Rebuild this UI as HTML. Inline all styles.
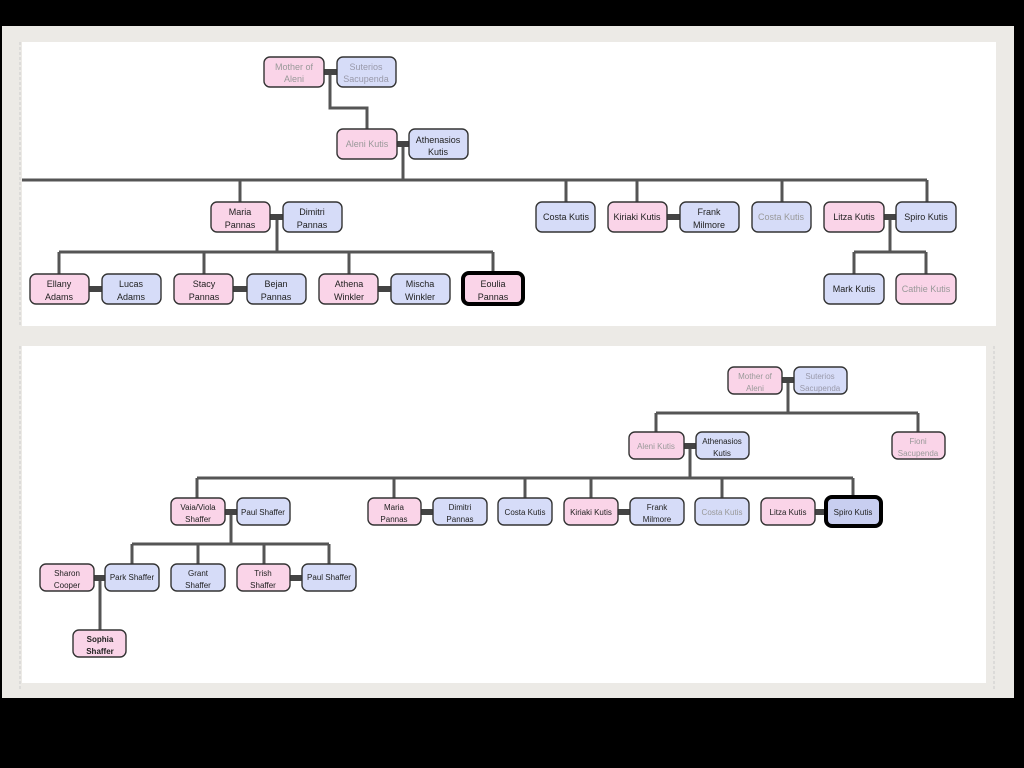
<!DOCTYPE html>
<html><head><meta charset="utf-8"><style>
html,body{margin:0;padding:0;background:#000;}
svg{display:block}
text{font-family:"Liberation Sans",sans-serif;text-anchor:middle;}
</style></head><body>
<svg width="1024" height="768" viewBox="0 0 1024 768" xmlns="http://www.w3.org/2000/svg">
<rect x="0" y="0" width="1024" height="768" fill="#000"/>
<rect x="2" y="26" width="1012" height="672" fill="#eceae6"/>
<rect x="22" y="42" width="974" height="284" fill="#fff"/>
<rect x="22" y="346" width="964" height="337" fill="#fff"/>
<line x1="20" y1="42" x2="20" y2="326" stroke="#ccc" stroke-dasharray="3,2"/>
<line x1="20" y1="346" x2="20" y2="690" stroke="#ccc" stroke-dasharray="3,2"/>
<line x1="994" y1="346" x2="994" y2="690" stroke="#ccc" stroke-dasharray="3,2"/>

<g stroke="#555" stroke-width="3" fill="none">
<!-- top diagram -->
<path d="M330 72 V108 H367 V129"/>
<path d="M403 144 V180"/>
<path d="M22 180 H927"/>
<path d="M240 180 V202 M566 180 V202 M637 180 V202 M782 180 V202 M927 180 V202"/>
<path d="M277 217 V252 M59 252 H493 M59 252 V274 M204 252 V274 M349 252 V274 M493 252 V274"/>
<path d="M890 217 V252 M854 252 H926 M854 252 V274 M926 252 V274"/>
<!-- bottom diagram -->
<path d="M788 380 V413 M656 413 H918 M656 413 V432 M918 413 V432"/>
<path d="M690 446 V478 M197 478 H853 M197 478 V498 M394 478 V498 M525 478 V498 M591 478 V498 M722 478 V498 M853 478 V498"/>
<path d="M231 512 V544 M132 544 H329 M132 544 V564 M198 544 V564 M264 544 V564 M329 544 V564"/>
<path d="M100 578 V630"/>
</g>
<g stroke="#444" stroke-width="6">
<line x1="324" y1="72" x2="337" y2="72"/><line x1="397" y1="144" x2="409" y2="144"/>
<line x1="270" y1="217" x2="283" y2="217"/><line x1="667" y1="217" x2="680" y2="217"/><line x1="884" y1="217" x2="896" y2="217"/>
<line x1="89" y1="289" x2="102" y2="289"/><line x1="233" y1="289" x2="247" y2="289"/><line x1="378" y1="289" x2="391" y2="289"/>
<line x1="782" y1="380" x2="794" y2="380"/><line x1="684" y1="446" x2="696" y2="446"/>
<line x1="225" y1="512" x2="237" y2="512"/><line x1="421" y1="512" x2="433" y2="512"/><line x1="618" y1="512" x2="630" y2="512"/><line x1="815" y1="512" x2="825" y2="512"/>
<line x1="94" y1="578" x2="105" y2="578"/><line x1="290" y1="578" x2="302" y2="578"/>
</g>

<g stroke="#333" stroke-width="1.4">
<!-- top boxes -->
<g font-size="9">
<rect x="264" y="57" width="60" height="30" rx="6" fill="#fad4e8"/>
<rect x="337" y="57" width="59" height="30" rx="6" fill="#d6dcf8"/>
<rect x="337" y="129" width="60" height="30" rx="6" fill="#fad4e8"/>
<rect x="409" y="129" width="59" height="30" rx="6" fill="#d6dcf8"/>
<rect x="211" y="202" width="59" height="30" rx="6" fill="#fad4e8"/>
<rect x="283" y="202" width="59" height="30" rx="6" fill="#d6dcf8"/>
<rect x="536" y="202" width="59" height="30" rx="6" fill="#d6dcf8"/>
<rect x="608" y="202" width="59" height="30" rx="6" fill="#fad4e8"/>
<rect x="680" y="202" width="59" height="30" rx="6" fill="#d6dcf8"/>
<rect x="752" y="202" width="59" height="30" rx="6" fill="#d6dcf8"/>
<rect x="824" y="202" width="60" height="30" rx="6" fill="#fad4e8"/>
<rect x="896" y="202" width="60" height="30" rx="6" fill="#d6dcf8"/>
<rect x="30" y="274" width="59" height="30" rx="6" fill="#fad4e8"/>
<rect x="102" y="274" width="59" height="30" rx="6" fill="#d6dcf8"/>
<rect x="174" y="274" width="59" height="30" rx="6" fill="#fad4e8"/>
<rect x="247" y="274" width="59" height="30" rx="6" fill="#d6dcf8"/>
<rect x="319" y="274" width="59" height="30" rx="6" fill="#fad4e8"/>
<rect x="391" y="274" width="59" height="30" rx="6" fill="#d6dcf8"/>
<rect x="463" y="273" width="60" height="31" rx="6" fill="#fad4e8" stroke="#000" stroke-width="4"/>
<rect x="824" y="274" width="60" height="30" rx="6" fill="#d6dcf8"/>
<rect x="896" y="274" width="60" height="30" rx="6" fill="#fad4e8"/>
</g>
<!-- bottom boxes -->
<rect x="728" y="367" width="54" height="27" rx="6" fill="#fad4e8"/>
<rect x="794" y="367" width="53" height="27" rx="6" fill="#d6dcf8"/>
<rect x="629" y="432" width="55" height="27" rx="6" fill="#fad4e8"/>
<rect x="696" y="432" width="53" height="27" rx="6" fill="#d6dcf8"/>
<rect x="892" y="432" width="53" height="27" rx="6" fill="#fad4e8"/>
<rect x="171" y="498" width="54" height="27" rx="6" fill="#fad4e8"/>
<rect x="237" y="498" width="53" height="27" rx="6" fill="#d6dcf8"/>
<rect x="368" y="498" width="53" height="27" rx="6" fill="#fad4e8"/>
<rect x="433" y="498" width="54" height="27" rx="6" fill="#d6dcf8"/>
<rect x="498" y="498" width="54" height="27" rx="6" fill="#d6dcf8"/>
<rect x="564" y="498" width="54" height="27" rx="6" fill="#fad4e8"/>
<rect x="630" y="498" width="54" height="27" rx="6" fill="#d6dcf8"/>
<rect x="695" y="498" width="54" height="27" rx="6" fill="#d6dcf8"/>
<rect x="761" y="498" width="54" height="27" rx="6" fill="#fad4e8"/>
<rect x="826" y="497" width="55" height="29" rx="6" fill="#c8cef0" stroke="#000" stroke-width="4"/>
<rect x="40" y="564" width="54" height="27" rx="6" fill="#fad4e8"/>
<rect x="105" y="564" width="54" height="27" rx="6" fill="#d6dcf8"/>
<rect x="171" y="564" width="54" height="27" rx="6" fill="#d6dcf8"/>
<rect x="237" y="564" width="53" height="27" rx="6" fill="#fad4e8"/>
<rect x="302" y="564" width="54" height="27" rx="6" fill="#d6dcf8"/>
<rect x="73" y="630" width="53" height="27" rx="6" fill="#fad4e8"/>
</g>

<g font-size="9" fill="#222">
<text x="294" y="70" fill="#999">Mother of</text><text x="294" y="82" fill="#999">Aleni</text>
<text x="366" y="70" fill="#99a">Suterios</text><text x="366" y="82" fill="#99a">Sacupenda</text>
<text x="367" y="147" fill="#999">Aleni Kutis</text>
<text x="438" y="143">Athenasios</text><text x="438" y="155">Kutis</text>
<text x="240" y="215">Maria</text><text x="240" y="228">Pannas</text>
<text x="312" y="215">Dimitri</text><text x="312" y="228">Pannas</text>
<text x="566" y="220">Costa Kutis</text>
<text x="637" y="220">Kiriaki Kutis</text>
<text x="709" y="215">Frank</text><text x="709" y="228">Milmore</text>
<text x="781" y="220" fill="#999">Costa Kutis</text>
<text x="854" y="220">Litza Kutis</text>
<text x="926" y="220">Spiro Kutis</text>
<text x="59" y="287">Ellany</text><text x="59" y="300">Adams</text>
<text x="131" y="287">Lucas</text><text x="131" y="300">Adams</text>
<text x="204" y="287">Stacy</text><text x="204" y="300">Pannas</text>
<text x="276" y="287">Bejan</text><text x="276" y="300">Pannas</text>
<text x="349" y="287">Athena</text><text x="349" y="300">Winkler</text>
<text x="420" y="287">Mischa</text><text x="420" y="300">Winkler</text>
<text x="493" y="287">Eoulia</text><text x="493" y="300">Pannas</text>
<text x="854" y="292">Mark Kutis</text>
<text x="926" y="292" fill="#999">Cathie Kutis</text>
</g>
<g font-size="8" fill="#222">
<text x="755" y="379" fill="#999">Mother of</text><text x="755" y="391" fill="#999">Aleni</text>
<text x="820" y="379" fill="#99a">Suterios</text><text x="820" y="391" fill="#99a">Sacupenda</text>
<text x="656" y="449" fill="#999">Aleni Kutis</text>
<text x="722" y="444">Athenasios</text><text x="722" y="456">Kutis</text>
<text x="918" y="444" fill="#999">Fioni</text><text x="918" y="456" fill="#999">Sacupenda</text>
<text x="198" y="510">Vaia/Viola</text><text x="198" y="522">Shaffer</text>
<text x="263" y="515">Paul Shaffer</text>
<text x="394" y="510">Maria</text><text x="394" y="522">Pannas</text>
<text x="460" y="510">Dimitri</text><text x="460" y="522">Pannas</text>
<text x="525" y="515">Costa Kutis</text>
<text x="591" y="515">Kiriaki Kutis</text>
<text x="657" y="510">Frank</text><text x="657" y="522">Milmore</text>
<text x="722" y="515" fill="#999">Costa Kutis</text>
<text x="788" y="515">Litza Kutis</text>
<text x="853" y="515">Spiro Kutis</text>
<text x="67" y="576">Sharon</text><text x="67" y="588">Cooper</text>
<text x="132" y="580">Park Shaffer</text>
<text x="198" y="576">Grant</text><text x="198" y="588">Shaffer</text>
<text x="263" y="576">Trish</text><text x="263" y="588">Shaffer</text>
<text x="329" y="580">Paul Shaffer</text>
<text x="100" y="642" font-weight="bold">Sophia</text><text x="100" y="654" font-weight="bold">Shaffer</text>
</g>
</svg>
</body></html>
